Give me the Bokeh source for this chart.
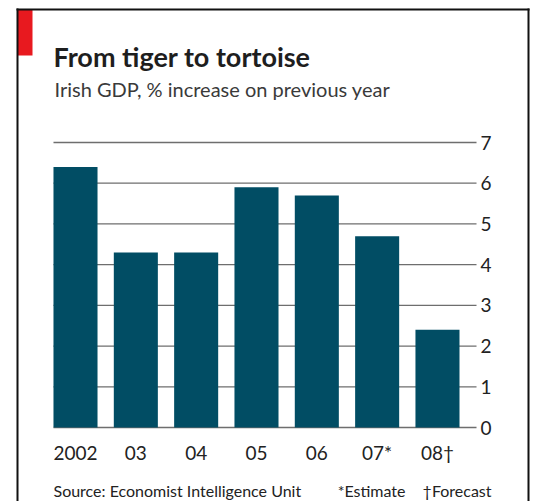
from bokeh.plotting import figure
from bokeh.models import Range1d, FixedTicker, LinearAxis, Label, BoxAnnotation
from bokeh.embed import file_html
from bokeh.resources import INLINE

years = ["2002", "03", "04", "05", "06", "07*", "08\u2020"]
growth = [6.4, 4.3, 4.3, 5.9, 5.7, 4.7, 2.4]
y_ticks = [0, 1, 2, 3, 4, 5, 6, 7]

title = "From tiger to tortoise"
subtitle = "Irish GDP, % increase on previous year"
source = "Source: Economist Intelligence Unit"
note1 = "*Estimate"
note2 = "\u2020Forecast"

FONT = "Lato"
BAR = "#014d64"
W, H = 533, 501

xs = list(range(len(years)))

# data ranges chosen so that the whole canvas is the plotting frame
x_left, x_right = -0.365, 6.647          # extent of the chart area (grid lines)
p = figure(width=W, height=H,
           x_range=Range1d(-1.2432, 7.5916), y_range=Range1d(-1.8175, 10.488),
           output_backend="svg", toolbar_location=None,
           min_border=0, y_axis_location=None, x_axis_location=None)
p.outline_line_color = None
p.background_fill_color = "white"
p.border_fill_color = "white"
p.xgrid.visible = False
p.ygrid.visible = False

# grid lines (restricted to the chart area)
p.segment(x0=x_left, x1=x_right, y0=y_ticks, y1=y_ticks,
          line_color="#6e6e6e", line_width=1.3)

p.vbar(x=xs, top=growth, bottom=0, width=0.73, fill_color=BAR, line_color=None)

# right value axis, drawn at the right end of the grid lines
ya = LinearAxis(ticker=FixedTicker(ticks=y_ticks), fixed_location=x_right)
ya.axis_line_color = None
ya.major_tick_line_color = None
ya.minor_tick_line_color = None
ya.major_tick_out = 0
ya.major_tick_in = 0
ya.major_label_standoff = 4
ya.major_label_text_font = FONT
ya.major_label_text_font_size = "19px"
ya.major_label_text_color = "#222222"
p.add_layout(ya, "right")

xa = LinearAxis(ticker=FixedTicker(ticks=xs), fixed_location=0,
                major_label_overrides={i: s for i, s in zip(xs, years)})
xa.axis_line_color = None
xa.major_tick_line_color = None
xa.minor_tick_line_color = None
xa.major_tick_out = 0
xa.major_tick_in = 0
xa.major_label_standoff = 13
xa.major_label_text_font = FONT
xa.major_label_text_font_size = "19px"
xa.major_label_text_color = "#222222"
p.add_layout(xa, "below")

def lab(txt, x, y, size, bold=False, color="#222222", align="left"):
    p.add_layout(Label(x=x, y=H - y, x_units="screen", y_units="screen", text=txt,
                       text_font=FONT, text_font_size=size,
                       text_font_style="bold" if bold else "normal",
                       text_color=color, text_baseline="alphabetic",
                       text_align=align))

lab(title, 53, 55.5, "27px", bold=True, color="#1e1e1e")
lab(subtitle, 54, 88, "20px", color="#3a3a3a")
lab(source, 53, 490, "16px")
lab(note1, 405, 490, "16px", align="right")
lab(note2, 491, 490, "16px", align="right")

def box(l, r, t, b, color):
    p.add_layout(BoxAnnotation(left=l, right=r, top=H - t, bottom=H - b,
                               left_units="screen", right_units="screen",
                               top_units="screen", bottom_units="screen",
                               fill_color=color, fill_alpha=1, line_color=None))

# red tab and outer frame
box(17, 32, 9, 55, "#e8191f")
box(16, 18, 8, H + 5, "#111111")
box(16, 529, 8, 10, "#111111")
box(527, 529, 8, H + 5, "#111111")

open("out.html", "w").write(file_html(p, INLINE))
